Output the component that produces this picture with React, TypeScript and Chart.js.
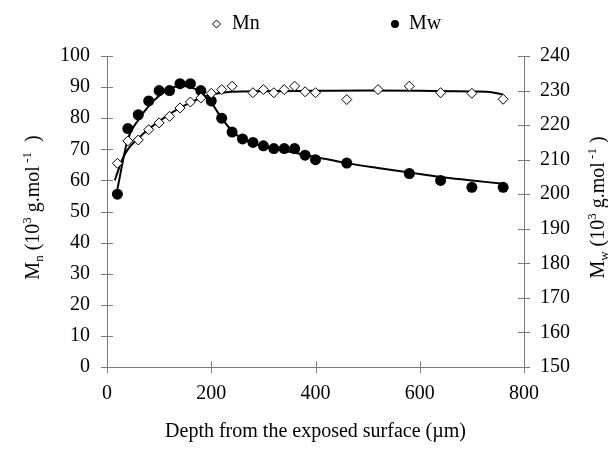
import React, { useEffect, useRef } from 'react';
import { Chart, registerables } from 'chart.js';

Chart.register(...registerables);

const FONT = "'Liberation Serif', 'Times New Roman', serif";

// Mn (left axis, 10^3 g/mol)
const mnDepth = [20, 40, 60, 80, 100, 120, 140, 160, 180, 200, 220, 240, 280, 300, 320, 340, 360, 380, 400, 460, 520, 580, 640, 700, 760];
const mnValues = [65.5, 72.7, 73, 76.3, 78.5, 80.6, 83.3, 85.2, 86.5, 88, 89.2, 90.3, 88.2, 89.2, 88.2, 89.2, 90.3, 88.5, 88.2, 86, 89.2, 90.3, 88.2, 88, 86.1];

// Mw (right axis, 10^3 g/mol)
const mwDepth = [20, 40, 60, 80, 100, 120, 140, 160, 180, 200, 220, 240, 260, 280, 300, 320, 340, 360, 380, 400, 460, 580, 640, 700, 760];
const mwValues = [200, 219, 223, 227, 230, 230, 232, 232, 230, 227, 222, 218, 216, 215, 214, 213.2, 213.2, 213.2, 211.3, 210, 209, 206, 204, 202, 202];

// Trend curves
const mnTrendDepth = [15, 20, 30, 40, 60, 80, 100, 120, 140, 160, 180, 200, 220, 240, 300, 400, 500, 600, 700, 740, 760];
const mnTrendValues = [60, 62.5, 67, 70, 73.5, 76.5, 79, 81.3, 83.3, 85, 86.5, 87.6, 88.2, 88.5, 88.7, 88.8, 88.9, 88.8, 88.6, 88.3, 87.6];

const mwTrendDepth = [20, 40, 60, 80, 100, 120, 140, 160, 180, 200, 220, 240, 260, 280, 300, 340, 400, 460, 520, 580, 640, 700, 760];
const mwTrendValues = [201.5, 216, 221.5, 225.5, 228.5, 230.5, 231.3, 231, 229.5, 226.5, 222, 218.3, 216, 214.7, 213.8, 212.6, 210.8, 209, 207.6, 206.3, 205, 204, 203];

const xTicks = [0, 200, 400, 600, 800];
const yLeftRange = [0, 100];
const yRightRange = [150, 240];
const xTitle = 'Depth from the exposed surface (\u00b5m)';
const legendLabels = ['Mn', 'Mw'];

const AXIS_COLOR = '#7a7a7a';

const pts = (xs: number[], ys: number[]) => xs.map((x, i) => ({ x, y: ys[i] }));

type Seg = { t: string; size: number; dy: number };

function drawRich(ctx: CanvasRenderingContext2D, segs: Seg[], cx: number, cy: number, rot: number) {
  ctx.save();
  ctx.translate(cx, cy);
  ctx.rotate(rot);
  let total = 0;
  const widths = segs.map((s) => {
    ctx.font = `${s.size}px ${FONT}`;
    const w = ctx.measureText(s.t).width;
    total += w;
    return w;
  });
  let x = -total / 2;
  ctx.textBaseline = 'alphabetic';
  ctx.textAlign = 'left';
  ctx.fillStyle = '#000';
  segs.forEach((s, i) => {
    ctx.font = `${s.size}px ${FONT}`;
    ctx.fillText(s.t, x, 7 + s.dy);
    x += widths[i];
  });
  ctx.restore();
}

const decorPlugin = {
  id: 'decor',
  beforeDatasetsDraw(chart: any) {
    const ctx: CanvasRenderingContext2D = chart.ctx;
    const { x, y, y2 } = chart.scales;
    const area = chart.chartArea;
    ctx.save();
    ctx.strokeStyle = AXIS_COLOR;
    ctx.lineWidth = 1;
    ctx.beginPath();
    x.ticks.forEach((t: any) => {
      const px = Math.round(x.getPixelForValue(t.value)) + 0.5;
      ctx.moveTo(px, area.bottom - 6);
      ctx.lineTo(px, area.bottom + 6);
    });
    y.ticks.forEach((t: any) => {
      const py = Math.round(y.getPixelForValue(t.value)) + 0.5;
      ctx.moveTo(area.left - 6, py);
      ctx.lineTo(area.left + 6, py);
    });
    y2.ticks.forEach((t: any) => {
      const py = Math.round(y2.getPixelForValue(t.value)) + 0.5;
      ctx.moveTo(area.right - 6, py);
      ctx.lineTo(area.right + 6, py);
    });
    ctx.stroke();
    ctx.restore();
  },
  afterDraw(chart: any) {
    const ctx: CanvasRenderingContext2D = chart.ctx;
    const area = chart.chartArea;
    const cy = (area.top + area.bottom) / 2 - 4;
    // Y titles
    drawRich(ctx, [
      { t: 'M', size: 20, dy: 0 },
      { t: 'n', size: 13, dy: 4 },
      { t: ' (10', size: 20, dy: 0 },
      { t: '3', size: 13, dy: -8 },
      { t: ' g.mol', size: 20, dy: 0 },
      { t: ' -1', size: 13, dy: -8 },
      { t: '  )', size: 20, dy: 0 },
    ], 23.5, cy, -Math.PI / 2);
    drawRich(ctx, [
      { t: 'M', size: 20, dy: 0 },
      { t: 'w', size: 13, dy: 4 },
      { t: ' (10', size: 20, dy: 0 },
      { t: '3', size: 13, dy: -8 },
      { t: ' g.mol', size: 20, dy: 0 },
      { t: ' -1', size: 13, dy: -8 },
      { t: ' )', size: 20, dy: 0 },
    ], 589, cy, -Math.PI / 2);

    // Legend
    ctx.save();
    ctx.strokeStyle = '#000';
    ctx.lineWidth = 1;
    const dx = 208.5, dyy = 16;
    ctx.beginPath();
    ctx.moveTo(dx, dyy - 4);
    ctx.lineTo(dx + 4, dyy);
    ctx.lineTo(dx, dyy + 4);
    ctx.lineTo(dx - 4, dyy);
    ctx.closePath();
    ctx.fillStyle = '#fff';
    ctx.fill();
    ctx.stroke();
    ctx.fillStyle = '#000';
    ctx.beginPath();
    ctx.arc(387, 16, 4, 0, Math.PI * 2);
    ctx.fill();
    ctx.font = `20px ${FONT}`;
    ctx.textBaseline = 'alphabetic';
    ctx.textAlign = 'left';
    ctx.fillText(legendLabels[0], 224, 21);
    ctx.fillText(legendLabels[1], 401, 21);
    ctx.restore();
  },
};

export default function App() {
  const ref = useRef<HTMLCanvasElement | null>(null);
  useEffect(() => {
    if (!ref.current) return;
    const tickFont = { family: FONT, size: 20 };
    const chart = new Chart(ref.current, {
      type: 'scatter',
      data: {
        datasets: [
          {
            label: legendLabels[0],
            data: pts(mnDepth, mnValues),
            yAxisID: 'y',
            pointStyle: 'rectRot',
            pointRadius: 5,
            backgroundColor: '#fff',
            borderColor: '#000',
            borderWidth: 1,
            showLine: false,
          },
          {
            label: legendLabels[1],
            data: pts(mwDepth, mwValues),
            yAxisID: 'y2',
            pointStyle: 'circle',
            pointRadius: 5.5,
            backgroundColor: '#000',
            borderColor: '#000',
            borderWidth: 0,
            showLine: false,
          },
          {
            label: 'Mn trend',
            data: pts(mnTrendDepth, mnTrendValues),
            yAxisID: 'y',
            showLine: true,
            pointRadius: 0,
            borderColor: '#000',
            borderWidth: 2,
            cubicInterpolationMode: 'monotone',
          } as any,
          {
            label: 'Mw trend',
            data: pts(mwTrendDepth, mwTrendValues),
            yAxisID: 'y2',
            showLine: true,
            pointRadius: 0,
            borderColor: '#000',
            borderWidth: 2,
            cubicInterpolationMode: 'monotone',
          } as any,
        ],
      },
      options: {
        animation: false,
        responsive: true,
        maintainAspectRatio: false,
        layout: { padding: { top: 48, left: 0, right: 0, bottom: 0 } },
        plugins: { legend: { display: false }, tooltip: { enabled: false } },
        scales: {
          x: {
            type: 'linear',
            min: xTicks[0],
            max: xTicks[xTicks.length - 1],
            afterBuildTicks: (s: any) => { s.ticks = xTicks.map((v) => ({ value: v })); },
            ticks: { font: tickFont, color: '#000', padding: 15, maxRotation: 0 },
            grid: { display: false, drawTicks: false },
            border: { display: true, color: AXIS_COLOR, width: 1 },
            title: { display: true, text: xTitle, font: { family: FONT, size: 20 }, color: '#000', padding: { top: 0, bottom: 4 } },
            afterFit: (s: any) => { s.height = 81; },
          },
          y: {
            type: 'linear',
            position: 'left',
            min: yLeftRange[0],
            max: yLeftRange[1],
            ticks: { stepSize: 10, font: tickFont, color: '#000', padding: 17 },
            grid: { display: false, drawTicks: false },
            border: { display: true, color: AXIS_COLOR, width: 1 },
            afterFit: (s: any) => { s.width = 99; },
          },
          y2: {
            type: 'linear',
            position: 'right',
            min: yRightRange[0],
            max: yRightRange[1],
            ticks: { stepSize: 10, font: tickFont, color: '#000', padding: 16 },
            grid: { display: false, drawTicks: false },
            border: { display: true, color: AXIS_COLOR, width: 1 },
            afterFit: (s: any) => { s.width = 84; },
          },
        },
      } as any,
      plugins: [decorPlugin],
    });
    return () => chart.destroy();
  }, []);
  return (
    <div style={{ width: 600, height: 440, position: 'relative' }}>
      <canvas ref={ref} />
    </div>
  );
}
